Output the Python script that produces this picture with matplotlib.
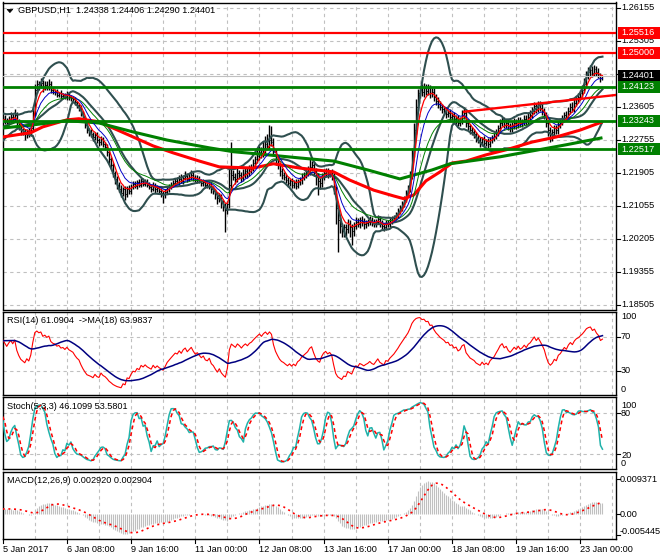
import numpy as np
import pandas as pd
import matplotlib
matplotlib.use('Agg')
import matplotlib.pyplot as plt
from matplotlib.transforms import blended_transform_factory
from matplotlib.patches import Rectangle, Polygon

plt.rcParams['font.family'] = ['Liberation Sans', 'DejaVu Sans']

W, H = 660, 560

# ---------------- data ----------------
# hourly closes before the visible window (only used to warm up indicators)
warm_close = [1.2275, 1.2270, 1.2262, 1.2268, 1.2275, 1.2280, 1.2272, 1.2265, 1.2258, 1.2262,
              1.2270, 1.2278, 1.2285, 1.2280, 1.2275, 1.2268, 1.2262, 1.2255, 1.2250, 1.2258,
              1.2265, 1.2260, 1.2255, 1.2262, 1.2270, 1.2265, 1.2258, 1.2252, 1.2248, 1.2255,
              1.2262, 1.2268, 1.2262, 1.2258, 1.2265, 1.2272, 1.2278, 1.2270, 1.2265, 1.2260,
              1.2265, 1.2272, 1.2280, 1.2288, 1.2285, 1.2292, 1.2300, 1.2295, 1.2302, 1.2310,
              1.2305, 1.2312, 1.2320, 1.2315, 1.2322, 1.2328, 1.2320, 1.2325, 1.2332, 1.2328]

# visible hourly closes, 5 Jan 00:00 .. 23 Jan 11:00
close = [
    1.2330, 1.2325, 1.2320, 1.2328, 1.2335, 1.2330, 1.2340,
    1.2322, 1.2310, 1.2300, 1.2295, 1.2290, 1.2298, 1.2292, 1.2305,
    1.2345, 1.2405,
    1.2420, 1.2415, 1.2422, 1.2410, 1.2418, 1.2412, 1.2420, 1.2405,
    1.2400, 1.2398, 1.2392, 1.2395, 1.2388, 1.2390, 1.2385, 1.2392, 1.2386, 1.2383,
    1.2380, 1.2372, 1.2365, 1.2360,
    1.2345, 1.2330, 1.2315, 1.2300, 1.2295,
    1.2290, 1.2282, 1.2288, 1.2275, 1.2270, 1.2278, 1.2265, 1.2258,
    1.2245, 1.2225, 1.2210, 1.2190, 1.2175, 1.2160,
    1.2150, 1.2140, 1.2148, 1.2135, 1.2150, 1.2145, 1.2155,
    1.2162, 1.2158, 1.2166, 1.2160, 1.2170, 1.2163, 1.2168,
    1.2160, 1.2155, 1.2150, 1.2158, 1.2148, 1.2152,
    1.2145, 1.2140, 1.2135, 1.2142, 1.2150, 1.2155, 1.2160,
    1.2165, 1.2170, 1.2168, 1.2175, 1.2170, 1.2178, 1.2182, 1.2175, 1.2180, 1.2185, 1.2178, 1.2172, 1.2175,
    1.2170, 1.2165, 1.2168, 1.2160, 1.2158, 1.2162, 1.2150,
    1.2145, 1.2135, 1.2125, 1.2130, 1.2115, 1.2105, 1.2095, 1.2110,
    1.2160, 1.2185,
    1.2180, 1.2175, 1.2190, 1.2185, 1.2178, 1.2188, 1.2195, 1.2190, 1.2200, 1.2205,
    1.2215, 1.2225, 1.2235, 1.2245, 1.2240, 1.2255, 1.2265, 1.2260, 1.2275, 1.2270,
    1.2245, 1.2225, 1.2210, 1.2195, 1.2185,
    1.2180, 1.2172, 1.2165, 1.2170, 1.2160, 1.2165, 1.2158, 1.2168, 1.2172, 1.2180, 1.2185, 1.2190,
    1.2195, 1.2205, 1.2210, 1.2195, 1.2180, 1.2170, 1.2165, 1.2180, 1.2190, 1.2195, 1.2188, 1.2192, 1.2185,
    1.2150, 1.2100, 1.2070, 1.2055, 1.2040,
    1.2050, 1.2045, 1.2060, 1.2050, 1.2040, 1.2055, 1.2065, 1.2060, 1.2070, 1.2065, 1.2058, 1.2062,
    1.2065, 1.2070, 1.2062, 1.2058, 1.2065, 1.2072, 1.2060, 1.2055, 1.2050, 1.2060, 1.2058, 1.2065, 1.2070,
    1.2075, 1.2082, 1.2090, 1.2100, 1.2110, 1.2122, 1.2135, 1.2150, 1.2180,
    1.2240, 1.2300, 1.2360,
    1.2395, 1.2405, 1.2398, 1.2410, 1.2402, 1.2408, 1.2395, 1.2400,
    1.2385, 1.2375, 1.2368, 1.2360, 1.2355,
    1.2350, 1.2342, 1.2345, 1.2335, 1.2338, 1.2328, 1.2332, 1.2320,
    1.2325, 1.2340, 1.2345, 1.2320, 1.2310, 1.2300, 1.2295,
    1.2290, 1.2280, 1.2275, 1.2270, 1.2278, 1.2268, 1.2272, 1.2265, 1.2275, 1.2280, 1.2285,
    1.2295, 1.2305, 1.2318, 1.2325, 1.2315, 1.2320, 1.2310,
    1.2305, 1.2312, 1.2320, 1.2315, 1.2325, 1.2318, 1.2322, 1.2330, 1.2325, 1.2335, 1.2340,
    1.2350, 1.2362, 1.2355, 1.2365, 1.2358, 1.2350, 1.2340,
    1.2320, 1.2300, 1.2290, 1.2295, 1.2305, 1.2300, 1.2315,
    1.2320, 1.2330, 1.2340, 1.2335, 1.2350, 1.2360, 1.2355, 1.2370, 1.2380, 1.2385,
    1.2395, 1.2405, 1.2420, 1.2440, 1.2450, 1.2455,
    1.2448, 1.2458, 1.2450, 1.2445, 1.24338, 1.24401,
]

# upper / lower shadow of each bar beyond its body, in pips
wick_up = [
    8, 10, 6, 9, 12, 8, 14,
    6, 8, 7, 5, 9, 6, 8, 10,
    12, 15,
    10, 8, 12, 7, 9, 8, 11, 6,
    7, 6, 9, 5, 8, 6, 7, 9, 5, 6,
    5, 6, 4, 5,
    5, 6, 4, 5, 7,
    8, 6, 9, 7, 6, 8, 5, 6,
    6, 5, 7, 5, 6, 8,
    8, 9, 7, 10, 8, 9, 7,
    7, 8, 6, 9, 7, 8, 6,
    6, 7, 5, 8, 6, 7,
    6, 7, 5, 6, 8, 7, 6,
    8, 7, 9, 10, 12, 8, 14, 9, 10, 12, 8, 7, 9,
    7, 6, 8, 5, 7, 6, 5,
    6, 5, 7, 8, 6, 5, 7, 9,
    40, 85,
    12, 10, 14, 9, 8, 12, 10, 8, 11, 9,
    12, 10, 14, 15, 12, 18, 20, 25, 40, 35,
    10, 8, 9, 7, 8,
    8, 7, 9, 6, 8, 7, 9, 8, 7, 10, 8, 9,
    12, 22, 10, 9, 8, 10, 7, 9, 10, 8, 9, 7, 8,
    8, 6, 5, 7, 6,
    8, 10, 12, 9, 8, 10, 12, 9, 8, 10, 9, 8,
    8, 9, 7, 10, 8, 9, 7, 8, 6, 9, 8, 10, 9,
    8, 9, 10, 8, 9, 10, 12, 10, 15,
    15, 18, 20,
    12, 10, 14, 12, 10, 11, 9, 10,
    9, 8, 10, 7, 8,
    8, 9, 7, 10, 8, 9, 7, 8,
    10, 12, 15, 8, 7, 6, 8,
    8, 7, 9, 8, 6, 8, 7, 9, 8, 7, 9,
    9, 10, 12, 10, 9, 8, 10,
    10, 9, 11, 8, 10, 9, 8, 10, 9, 11, 12,
    10, 12, 9, 11, 10, 9, 8,
    8, 7, 9, 8, 10, 9, 8,
    9, 10, 8, 11, 9, 10, 12, 10, 9, 11,
    10, 12, 15, 14, 12, 13,
    12, 10, 9, 11, 2, 0.5,
]
wick_dn = [
    7, 9, 8, 6, 10, 7, 9,
    10, 9, 12, 8, 14, 9, 10, 7,
    6, 8,
    8, 10, 6, 12, 7, 9, 8, 10,
    6, 8, 5, 7, 6, 8, 5, 6, 7, 8,
    7, 6, 8, 9,
    8, 9, 10, 8, 9,
    7, 9, 6, 8, 10, 7, 9, 8,
    10, 12, 9, 11, 13, 10,
    9, 11, 8, 13, 7, 9, 8,
    6, 7, 8, 6, 7, 5, 6,
    7, 6, 9, 7, 8, 6,
    8, 12, 22, 9, 7, 8, 6,
    6, 7, 5, 8, 6, 7, 6, 9, 5, 7, 8, 6, 7,
    6, 8, 7, 9, 6, 8, 10,
    10, 12, 15, 9, 14, 12, 57, 10,
    10, 12,
    9, 12, 8, 10, 11, 9, 10, 12, 8, 9,
    10, 9, 8, 11, 10, 9, 12, 10, 9, 11,
    12, 14, 10, 12, 9,
    9, 8, 10, 7, 9, 8, 10, 7, 8, 9, 7, 8,
    8, 9, 10, 12, 20, 36, 15, 10, 9, 8, 10, 9, 12,
    15, 40, 83, 20, 15,
    15, 18, 10, 25, 35, 12, 10, 9, 11, 10, 12, 9,
    7, 8, 9, 7, 8, 6, 9, 8, 10, 7, 8, 6, 7,
    6, 7, 8, 6, 7, 8, 7, 6, 8,
    6, 8, 10,
    10, 12, 9, 11, 10, 12, 11, 10,
    10, 9, 11, 8, 10,
    9, 10, 8, 11, 9, 10, 12, 9,
    9, 8, 10, 12, 9, 10, 8,
    9, 10, 8, 12, 9, 10, 8, 11, 9, 8, 7,
    8, 9, 7, 8, 10, 9, 8,
    9, 10, 8, 11, 9, 10, 9, 8, 10, 9, 8,
    8, 9, 10, 8, 9, 10, 12,
    12, 15, 20, 18, 12, 10, 9,
    8, 7, 9, 8, 7, 9, 8, 7, 8, 9,
    8, 9, 10, 8, 9, 10,
    10, 9, 11, 10, 8, 4.8,
]

# slow moving averages (bar index, price)
slow_red_bars = [0, 14, 20, 32, 38, 48, 65, 75, 85, 98, 108, 125, 135, 148, 165, 173, 185,
                 195, 200, 205, 211, 218, 224, 231, 241, 251, 264, 276, 288, 299]
slow_red = [1.2283, 1.2294, 1.2309, 1.2327, 1.2330, 1.2322, 1.2283, 1.2260, 1.2242, 1.2221,
            1.2206, 1.2203, 1.2214, 1.2203, 1.2193, 1.2172, 1.2146, 1.2131, 1.2124, 1.2134,
            1.2170, 1.2193, 1.2216, 1.2221, 1.2237, 1.2250, 1.2270, 1.2283, 1.2301, 1.2322]
slow_green_bars = [0, 15, 32, 48, 65, 82, 103, 115, 132, 148, 165, 182, 198, 214, 223,
                   248, 264, 281, 299]
slow_green = [1.2306, 1.2314, 1.2325, 1.2319, 1.2296, 1.2275, 1.2255, 1.2245, 1.2237, 1.2229,
              1.2221, 1.2198, 1.2175, 1.2198, 1.2214, 1.2232, 1.2247, 1.2263, 1.2281]

trend_bars = [230, 305.5]
trend_vals = [1.2348, 1.2391]

levels_red = [1.25516, 1.25000]
levels_green = [1.24123, 1.23243, 1.22517]
bid = 1.24401

price_ticks = [1.26155, 1.25305, 1.24455, 1.23605, 1.22755, 1.21905, 1.21055, 1.20205, 1.19355, 1.18505]
date_label_bars = [0, 32, 64, 96, 128, 160, 192, 224, 256, 288]
date_labels = ['5 Jan 2017', '6 Jan 08:00', '9 Jan 16:00', '11 Jan 00:00', '12 Jan 08:00',
               '13 Jan 16:00', '17 Jan 00:00', '18 Jan 08:00', '19 Jan 16:00', '23 Jan 00:00']

header = 'GBPUSD,H1  1.24338 1.24406 1.24290 1.24401'
rsi_title = 'RSI(14) 61.0904  ->MA(18) 63.9837'
stoch_title = 'Stoch(5,3,3) 46.1099 53.5801'
macd_title = 'MACD(12,26,9) 0.002920 0.002904'

# ---------------- indicators ----------------
nw = len(warm_close)
n = min(len(close), len(wick_up), len(wick_dn))
c_vis = np.array(close[:n])
c_all = np.array(warm_close + list(c_vis))
o_all = np.concatenate([[c_all[0]], c_all[:-1]])
o_vis = o_all[nw:]
h_vis = np.maximum(o_vis, c_vis) + np.array(wick_up[:n]) * 1e-4
l_vis = np.minimum(o_vis, c_vis) - np.array(wick_dn[:n]) * 1e-4
h_all = np.concatenate([np.array(warm_close), h_vis])
l_all = np.concatenate([np.array(warm_close), l_vis])

C = pd.Series(c_all)
Hh = pd.Series(h_all)
Ll = pd.Series(l_all)

def ema(s, p):
    return s.ewm(span=p, adjust=False).mean()

ema_fast = ema(C, 5).values[nw:]
ema_mid = ema(C, 10).values[nw:]
ema_slow = ema(C, 20).values[nw:]

bb_mid = C.rolling(20).mean()
bb_sd = C.rolling(20).std(ddof=0)
bb_up = (bb_mid + 2 * bb_sd).values[nw:]
bb_dn = (bb_mid - 2 * bb_sd).values[nw:]
bb_mid = bb_mid.values[nw:]

d = C.diff()
gain = d.clip(lower=0).ewm(alpha=1 / 14, adjust=False).mean()
loss = (-d.clip(upper=0)).ewm(alpha=1 / 14, adjust=False).mean()
rsi_s = 100 - 100 / (1 + gain / loss)
rsi_ma = rsi_s.rolling(18).mean().values[nw:]
rsi = rsi_s.values[nw:]

ll5 = Ll.rolling(5).min()
hh5 = Hh.rolling(5).max()
k = 100 * (C - ll5).rolling(3).sum() / (hh5 - ll5).rolling(3).sum()
dsig = k.rolling(3).mean()
stoch_k = k.values[nw:]
stoch_d = dsig.values[nw:]

macd_s = ema(C, 12) - ema(C, 26)
macd_sig = macd_s.rolling(9).mean().values[nw:]
macd = macd_s.values[nw:]

x = np.arange(n)

# ---------------- figure ----------------
fig = plt.figure(figsize=(W / 100, H / 100), dpi=100)
fig.patch.set_facecolor('white')

def add_ax(t, b, l=2.5, r=615.5):
    a = fig.add_axes([l / W, 1 - b / H, (r - l) / W, (b - t) / H])
    a.set_xlim(-0.1, 305.5)
    a.set_xticks([])
    a.set_yticks([])
    for sp in a.spines.values():
        sp.set_linewidth(1.0)
        sp.set_color('black')
    a.set_facecolor('white')
    return a

GRID = dict(color='#C0C0C0', lw=0.8, ls=(0, (3, 3)), zorder=0)
FS = 6.6

ax = add_ax(2.5, 309.5)
ax_rsi = add_ax(311.5, 394.8)
ax_st = add_ax(397.3, 468.6)
ax_m = add_ax(471.7, 539.0)

ymin, ymax = 1.18388, 1.26292
ax.set_ylim(ymin, ymax)
ax_rsi.set_ylim(1.5, 100)
ax_st.set_ylim(-0.5, 102.2)
ax_m.set_ylim(-0.00656, 0.01131)

for a in (ax, ax_rsi, ax_st, ax_m):
    for gb in range(16, 306, 16):
        a.axvline(gb, **GRID)
for p in price_ticks:
    ax.axhline(p, **GRID)
for v in (70, 30):
    ax_rsi.axhline(v, **GRID)
for v in (80, 20):
    ax_st.axhline(v, **GRID)

# price bars
ax.vlines(x, l_vis, h_vis, color='black', lw=1.0, zorder=2)
ax.hlines(o_vis, x - 0.45, x, color='black', lw=0.7, zorder=2)
ax.hlines(c_vis, x, x + 0.45, color='black', lw=0.7, zorder=2)

# Bollinger bands
bbc = '#2F4F4F'
for s in (bb_up, bb_mid, bb_dn):
    ax.plot(x, s, color=bbc, lw=1.5, zorder=3)

# slow MAs
ax.plot(slow_red_bars, slow_red, color='#FF0000', lw=2.2, zorder=4, solid_capstyle='butt')
ax.plot(slow_green_bars, slow_green, color='#008000', lw=2.2, zorder=4, solid_capstyle='butt')

# fast MAs
ax.plot(x, ema_slow, color='#008000', lw=0.7, zorder=4)
ax.plot(x, ema_mid, color='#0000C8', lw=0.7, zorder=4)
ax.plot(x, ema_fast, color='#FF0000', lw=0.9, zorder=4)

# trendline and levels
ax.plot(trend_bars, trend_vals, color='#FF0000', lw=1.7, zorder=5)
for lv in levels_red:
    ax.axhline(lv, color='#FF0000', lw=1.6, zorder=5)
for lv in levels_green:
    ax.axhline(lv, color='#008000', lw=2.0, zorder=5)
ax.axhline(bid, color='#C0C0C0', lw=0.8, zorder=5)

# RSI
ax_rsi.plot(x, rsi, color='#FF0000', lw=0.8, zorder=3)
ax_rsi.plot(x, rsi_ma, color='#000080', lw=1.1, zorder=4)

# Stochastic
ax_st.plot(x, stoch_k, color='#20B2AA', lw=1.1, zorder=3)
ax_st.plot(x, stoch_d, color='#FF0000', lw=1.1, ls=(0, (2.5, 2)), zorder=4)

# MACD
ax_m.vlines(x, 0, macd, color='#C0C0C0', lw=0.8, zorder=2)
ax_m.plot(x, macd_sig, color='#FF0000', lw=1.2, ls=(0, (1.2, 2.2)), zorder=3)

# ---------------- texts ----------------
def ftext(xp, yp, s, **kw):
    kw.setdefault('fontsize', FS)
    kw.setdefault('va', 'center')
    kw.setdefault('ha', 'left')
    return fig.text(xp / W, 1 - yp / H, s, **kw)

def right_ticks(a, vals):
    tr = a.get_yaxis_transform()
    for v in vals:
        a.plot([1.0, 1.0 + 4 / 613], [v, v], transform=tr, clip_on=False, color='black', lw=0.8)

trp = blended_transform_factory(fig.transFigure, ax.transData)
right_ticks(ax, price_ticks)
hidden = {1.24455}   # scale value covered by the current-price box
for p in price_ticks:
    if p in hidden:
        continue
    fig.text(621 / W, p, f'{p:.5f}', transform=trp, fontsize=FS, va='center', ha='left')

px_per_unit = (309.5 - 2.5) / (ymax - ymin)
bh = 12 / px_per_unit

def box_label(p, fc):
    r = Rectangle((618 / W, p - bh / 2), 42 / W, bh, transform=trp, facecolor=fc,
                  edgecolor='none', zorder=10)
    fig.add_artist(r)
    fig.text(621 / W, p, f'{p:.5f}', transform=trp, fontsize=FS, va='center', ha='left',
             color='white', zorder=11)

for lv in levels_red:
    box_label(lv, '#FF0000')
box_label(bid, '#000000')
for lv in levels_green:
    box_label(lv, '#008000')

# sub-window scales
tr_r = blended_transform_factory(fig.transFigure, ax_rsi.transData)
right_ticks(ax_rsi, [70, 30])
for v, yv in (('100', 94), ('70', 70), ('30', 30), ('0', 8)):
    fig.text(621 / W, yv, v, transform=tr_r, fontsize=FS, va='center', ha='left')
tr_s = blended_transform_factory(fig.transFigure, ax_st.transData)
right_ticks(ax_st, [80, 20])
for v, yv in (('100', 91), ('80', 79), ('20', 19), ('0', 7)):
    fig.text(621 / W, yv, v, transform=tr_s, fontsize=FS, va='center', ha='left')
tr_m = blended_transform_factory(fig.transFigure, ax_m.transData)
right_ticks(ax_m, [0.009371, 0.0, -0.005445])
for v, yv in (('0.009371', 0.009371), ('0.00', 0.0), ('-0.005445', -0.0045)):
    fig.text(620 / W, yv, v, transform=tr_m, fontsize=FS, va='center', ha='left')

# header and window titles
tri = Polygon([[7 / W, 1 - 9.3 / H], [12.8 / W, 1 - 9.3 / H], [9.9 / W, 1 - 12.6 / H]],
              closed=True, transform=fig.transFigure, facecolor='black', edgecolor='black', lw=0.5)
fig.add_artist(tri)
ftext(18.5, 10.5, header)
ftext(7, 320.5, rsi_title)
ftext(7, 406.5, stoch_title)
ftext(7, 480.5, macd_title)

# time axis
trx = blended_transform_factory(ax_m.transData, fig.transFigure)
for b, lab in zip(date_label_bars, date_labels):
    ax_m.plot([b, b], [0, -4 / 67.3], transform=ax_m.get_xaxis_transform(), clip_on=False,
              color='black', lw=0.8)
    fig.text(b, 1 - 549 / H, lab, transform=trx, fontsize=FS, va='center', ha='left')

fig.savefig('out.png', dpi=100, facecolor='white')
